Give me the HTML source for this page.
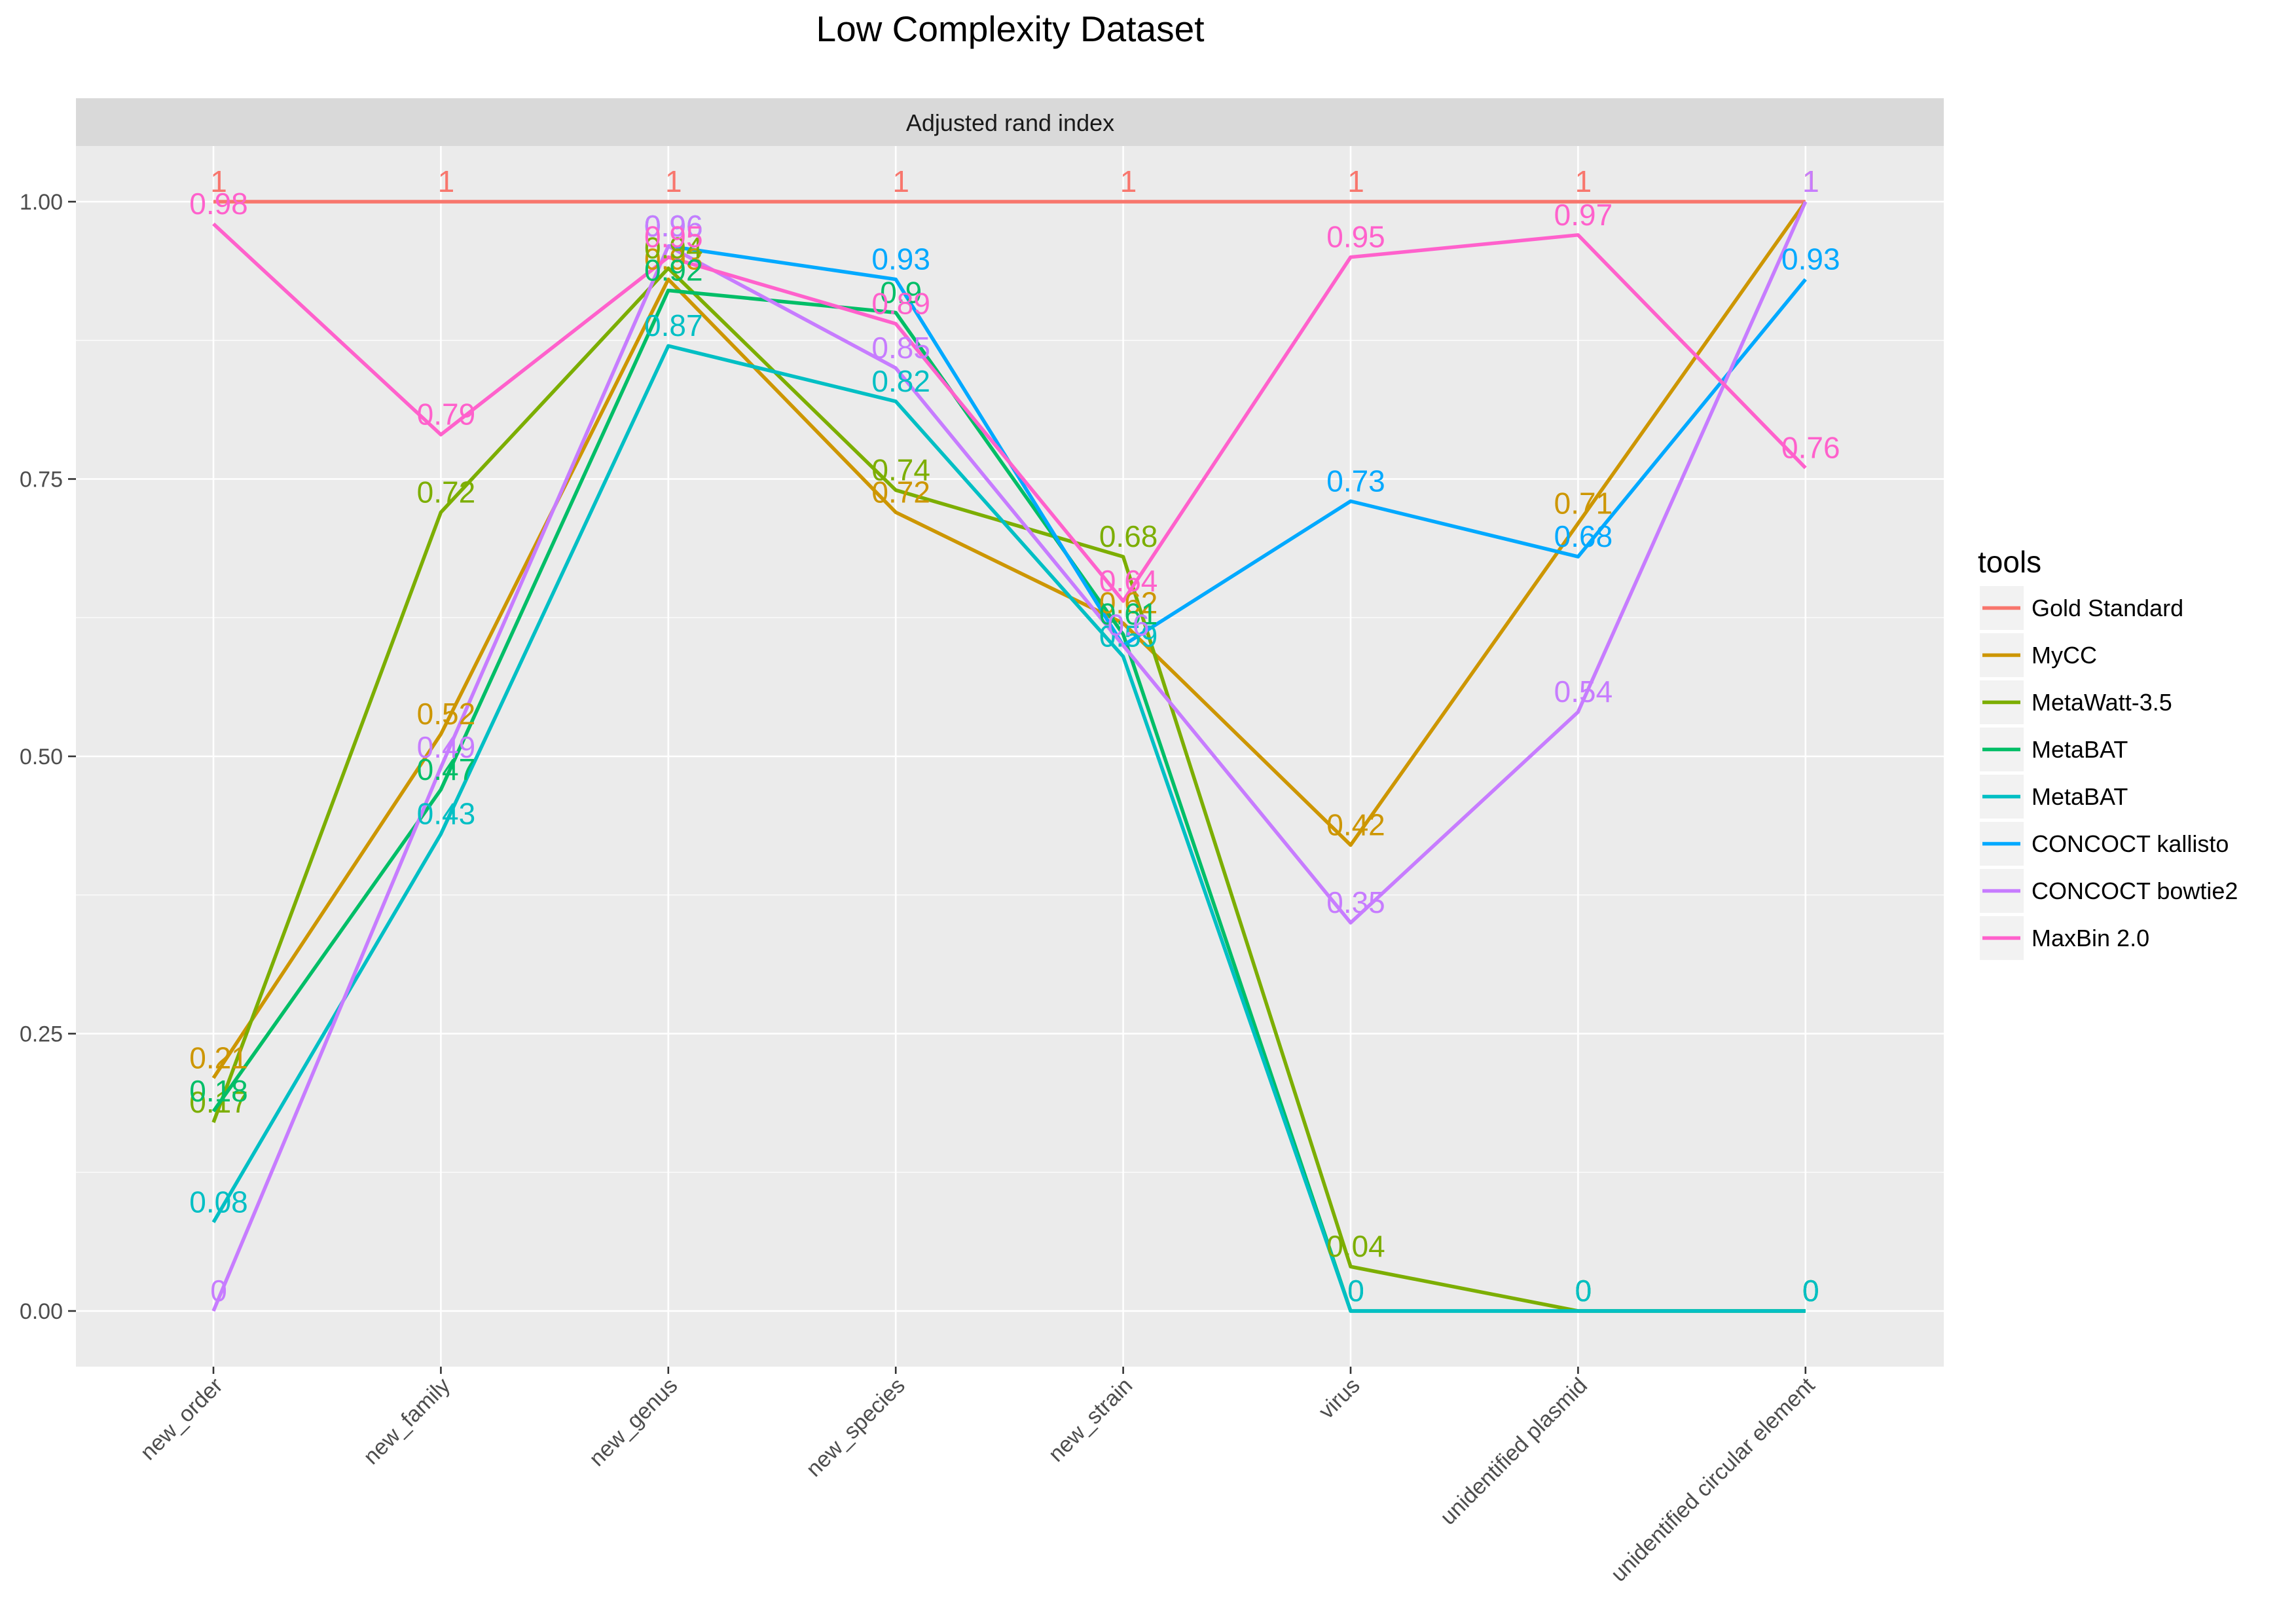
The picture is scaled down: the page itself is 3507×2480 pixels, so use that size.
<!DOCTYPE html>
<html><head><meta charset="utf-8"><style>
html,body{margin:0;padding:0;background:#fff;}
svg{display:block;font-family:"Liberation Sans",Arial,sans-serif;}
</style></head><body>
<svg id="chart" width="3507" height="2480" viewBox="0 0 3507 2480" xmlns="http://www.w3.org/2000/svg">
<text x="1543" y="63" font-size="55" text-anchor="middle" fill="#000">Low Complexity Dataset</text>
<rect x="116" y="150" width="2853" height="73" fill="#D9D9D9"/>
<text x="1543" y="200" font-size="36" text-anchor="middle" fill="#1A1A1A">Adjusted rand index</text>
<rect x="116" y="223" width="2853" height="1864" fill="#EBEBEB"/>
<g id="grid"></g>
<g id="series"></g>
<g id="labels"></g>
<g id="axes"></g>
<g id="legend"></g>
</svg>
<script>
const categories = ["new_order","new_family","new_genus","new_species","new_strain","virus","unidentified plasmid","unidentified circular element"];
const seriesNames = ["Gold Standard","MyCC","MetaWatt-3.5","MetaBAT","MetaBAT","CONCOCT kallisto","CONCOCT bowtie2","MaxBin 2.0"];
const goldStandard = [1,1,1,1,1,1,1,1];
const mycc = [0.21,0.52,0.93,0.72,0.62,0.42,0.71,1];
const metawatt = [0.17,0.72,0.94,0.74,0.68,0.04,0,0];
const metabat = [0.18,0.47,0.92,0.9,0.61,0,0,0];
const metabat2 = [0.08,0.43,0.87,0.82,0.59,0,0,0];
const concoctKallisto = [null,null,0.96,0.93,0.6,0.73,0.68,0.93];
const concoctBowtie2 = [0,0.49,0.96,0.85,0.6,0.35,0.54,1];
const maxbin = [0.98,0.79,0.95,0.89,0.64,0.95,0.97,0.76];
const yTicks = [0,0.25,0.5,0.75,1];
const yTickLabels = ["0.00","0.25","0.50","0.75","1.00"];
const yMinor = [0.125,0.375,0.625,0.875];

const allSeries = [goldStandard,mycc,metawatt,metabat,metabat2,concoctKallisto,concoctBowtie2,maxbin];
const colors = ["#F8766D","#CD9600","#7CAE00","#00BE67","#00BFC4","#00A9FF","#C77CFF","#FF61CC"];
const NS="http://www.w3.org/2000/svg";
const X0=326, DX=347.4;
function xs(i){return X0+DX*i;}
function ys(v){return 2002-1694*v;}
function mk(tag,attrs,parent){const e=document.createElementNS(NS,tag);for(const k in attrs)e.setAttribute(k,attrs[k]);parent.appendChild(e);return e;}
const grid=document.getElementById('grid'),ser=document.getElementById('series'),lab=document.getElementById('labels'),ax=document.getElementById('axes'),leg=document.getElementById('legend');
yMinor.forEach(v=>{const l=mk('line',{x1:116,x2:2969,y1:ys(v),y2:ys(v),stroke:'#fff','stroke-width':1.3},grid);

});
yTicks.forEach((v,i)=>{const l=mk('line',{x1:116,x2:2969,y1:ys(v),y2:ys(v),stroke:'#fff','stroke-width':2.6},grid);


const t=mk('line',{x1:104,x2:116,y1:ys(v),y2:ys(v),stroke:'#333','stroke-width':2.6},ax);


const tx=mk('text',{x:96,y:ys(v)+12,'font-size':34,'text-anchor':'end',fill:'#4D4D4D'},ax);tx.textContent=yTickLabels[i];

});
categories.forEach((c,i)=>{const x=xs(i);
const l=mk('line',{x1:x,x2:x,y1:223,y2:2087,stroke:'#fff','stroke-width':2.6},grid);


const t=mk('line',{x1:x,x2:x,y1:2087,y2:2098,stroke:'#333','stroke-width':2.6},ax);


const tx=mk('text',{x:x+16,y:2118,'font-size':34,'text-anchor':'end',fill:'#4D4D4D',transform:`rotate(-45 ${x+16} 2118)`},ax);tx.textContent=c;

});
allSeries.forEach((vals,s)=>{
 let d='';let pen=false;
 vals.forEach((v,i)=>{if(v===null){pen=false;return;}d+=(pen?'L':'M')+xs(i)+' '+ys(v)+' ';pen=true;});
 const p=mk('path',{d:d,fill:'none',stroke:colors[s],'stroke-width':5.5,'stroke-linejoin':'round'},ser);
 
 
 vals.forEach((v,i)=>{if(v===null)return;
  const t=mk('text',{x:xs(i)+8,y:ys(v)-15,'font-size':46,'text-anchor':'middle',fill:colors[s]},lab);t.textContent=String(v);
  
  });
});
const lt=mk('text',{x:3021,y:874,'font-size':46,fill:'#000'},leg);lt.textContent='tools';


seriesNames.forEach((n,s)=>{const y=895+72*s;
 const g=mk('g',{},leg);
 
 
 mk('rect',{x:3024,y:y,width:67,height:67,fill:'#F2F2F2'},g);
 mk('line',{x1:3028,x2:3086,y1:y+33.5,y2:y+33.5,stroke:colors[s],'stroke-width':5.5},g);
 const t=mk('text',{x:3103,y:y+46,'font-size':36,fill:'#000'},g);t.textContent=n;});
</script>
</body></html>
